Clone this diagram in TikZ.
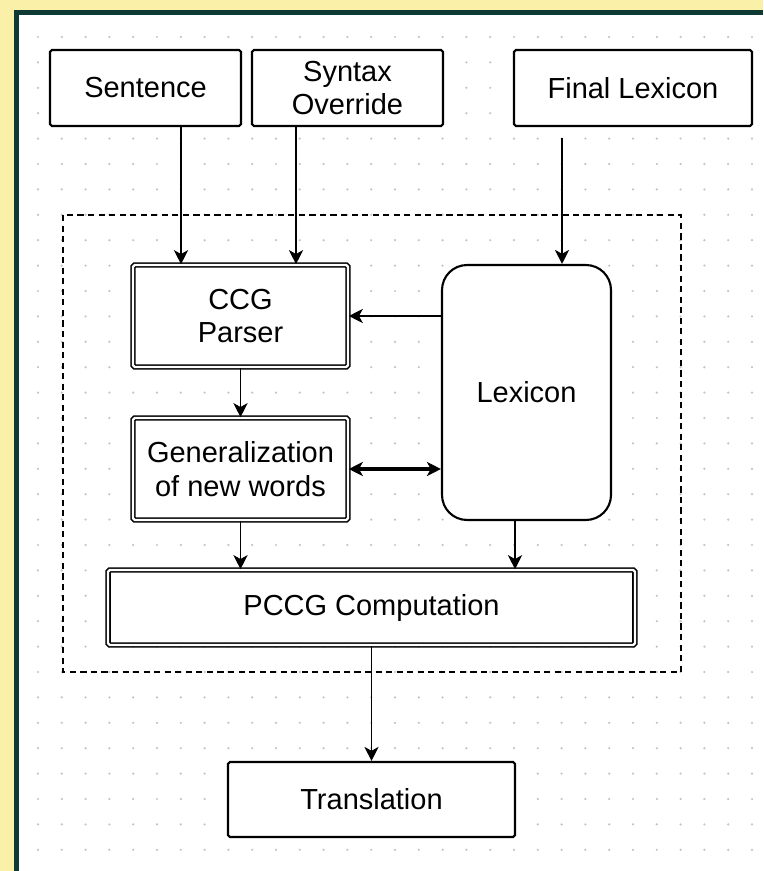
\documentclass[tikz,border=0pt]{standalone}
\usepackage{fontspec}
\setmainfont{Liberation Sans}
\usetikzlibrary{arrows.meta}
\definecolor{glow}{HTML}{FAF0A8}
\definecolor{frameline}{HTML}{0F3A34}
\definecolor{griddot}{HTML}{C4C4C4}
\tikzset{
  box/.style={draw, line width=1.2pt, rounded corners=1pt, fill=white, align=center,
    inner sep=0pt, font=\fontsize{16.5}{19}\selectfont},
  dblbox/.style={box, double=white, line width=0.9pt, double distance=1.3pt},
  arr/.style={-{Stealth[length=8pt,width=8pt,inset=2.2pt]}, line width=1.1pt},
  dblarr/.style={{Stealth[length=8pt,width=8pt,inset=2.2pt]}-{Stealth[length=8pt,width=8pt,inset=2.2pt]}, line width=1.8pt}
}
\begin{document}
\begin{tikzpicture}[x=0.02cm, y=-0.02cm]
    \useasboundingbox (0,0) rectangle (763,871);
    \fill[glow] (0,0) rectangle (763,871);
    \fill[white] (16,12) rectangle (763,871);
    \draw[frameline, line width=2.8pt] (16.5,871) -- (16.5,12.5) -- (763,12.5);
    \foreach \i in {0,...,30}
        \foreach \j in {0,...,32}
            \fill[griddot] (38+23.8*\i, 37+25.4*\j) circle [radius=0.7pt];
    \draw[line width=1.1pt, dash pattern=on 3.5pt off 2.5pt] (63,215) rectangle (681,672);
    \node[box, minimum width=3.82cm, minimum height=1.52cm] (sentence) at (145.5,88) {Sentence};
    \node[box, minimum width=3.82cm, minimum height=1.52cm] (syntax) at (347.5,88) {Syntax\\Override};
    \node[box, minimum width=4.76cm, minimum height=1.52cm] (final) at (633,88) {Final Lexicon};
    \node[dblbox, minimum width=4.3cm, minimum height=2.04cm] (ccg) at (240.5,316) {CCG\\Parser};
    \node[dblbox, minimum width=4.3cm, minimum height=2.04cm] (gen) at (240.5,469) {Generalization\\of new words};
    \node[box, rounded corners=0.5cm, minimum width=3.38cm, minimum height=5.1cm] (lexicon) at (526.5,392.5) {Lexicon};
    \node[dblbox, minimum width=10.54cm, minimum height=1.5cm] (pccg) at (371.5,607.5) {PCCG Computation};
    \node[box, minimum width=5.74cm, minimum height=1.5cm] (trans) at (371.5,799.5) {Translation};
    \coordinate (sx) at (181,0);
    \coordinate (ox) at (296,0);
    \coordinate (fl) at (562,138);
    \coordinate (lx) at (515,0);
    \draw[arr] (sentence.south -| sx) -- (ccg.north -| sx);
    \draw[arr] (syntax.south -| ox) -- (ccg.north -| ox);
    \draw[arr] (fl) -- (lexicon.north -| fl);
    \draw[arr] (lexicon.west |- ccg.east) -- (ccg.east);
    \draw[dblarr] (gen.east) -- (lexicon.west |- gen.east);
    \draw[arr] (ccg) -- (gen);
    \draw[arr] (gen.south) -- (pccg.north -| gen.south);
    \draw[arr] (lexicon.south -| lx) -- (pccg.north -| lx);
    \draw[arr] (pccg) -- (trans);
\end{tikzpicture}
\end{document}
